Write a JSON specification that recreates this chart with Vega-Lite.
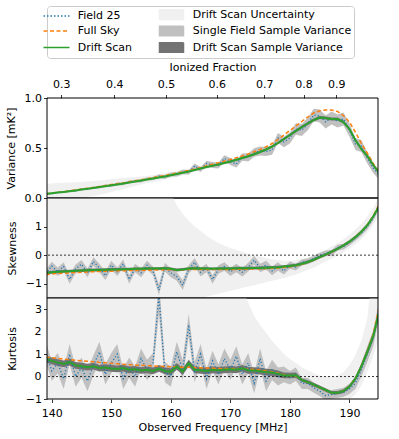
{
"$schema": "https://vega.github.io/schema/vega-lite/v6.json",
"autosize": {"type": "pad"},
"padding": {"left": 5, "top": 5, "right": 19, "bottom": 5},
"spacing": 0,
"bounds": "flush",
"config": {
  "font": "DejaVu Sans",
  "view": {"stroke": null},
  "axis": {"domain": false, "grid": false, "tickColor": "black", "tickSize": 3.5, "tickWidth": 0.8, "labelColor": "black", "labelFontSize": 11, "labelFont": "DejaVu Sans", "titleFont": "DejaVu Sans", "titleFontSize": 11, "titleFontWeight": "normal", "titleColor": "black", "labelPadding": 2, "titlePadding": 8, "labelFlush": false, "labelOverlap": false, "labelBound": false, "labelSeparation": -30},
  "axisY": {"labelOverlap": false},
  "axisLeft": {"labelOverlap": false},
  "legend": {"labelFont": "DejaVu Sans", "labelFontSize": 11, "labelColor": "black", "labelLimit": 400}
},
"datasets": {
"V": [
{"f":139,"d":0.040,"s":0.042,"p":0.040,"al":0.032,"ah":0.048,"bl":0.036,"bh":0.044,"ul":-0.06,"uh":0.14},
{"f":140,"d":0.047,"s":0.050,"p":0.044,"al":0.036,"ah":0.052,"bl":0.043,"bh":0.051,"ul":-0.05,"uh":0.145},
{"f":141,"d":0.054,"s":0.057,"p":0.056,"al":0.047,"ah":0.065,"bl":0.050,"bh":0.058,"ul":-0.04,"uh":0.15},
{"f":142,"d":0.061,"s":0.064,"p":0.058,"al":0.049,"ah":0.067,"bl":0.057,"bh":0.065,"ul":-0.03,"uh":0.152},
{"f":143,"d":0.068,"s":0.072,"p":0.070,"al":0.060,"ah":0.080,"bl":0.064,"bh":0.072,"ul":-0.02,"uh":0.155},
{"f":144,"d":0.076,"s":0.080,"p":0.072,"al":0.062,"ah":0.082,"bl":0.071,"bh":0.081,"ul":-0.01,"uh":0.158},
{"f":145,"d":0.084,"s":0.089,"p":0.086,"al":0.075,"ah":0.097,"bl":0.079,"bh":0.089,"ul":0.0,"uh":0.16},
{"f":146,"d":0.092,"s":0.097,"p":0.090,"al":0.079,"ah":0.101,"bl":0.087,"bh":0.097,"ul":0.01,"uh":0.165},
{"f":147,"d":0.100,"s":0.106,"p":0.104,"al":0.092,"ah":0.116,"bl":0.095,"bh":0.105,"ul":0.02,"uh":0.17},
{"f":148,"d":0.109,"s":0.115,"p":0.106,"al":0.094,"ah":0.118,"bl":0.104,"bh":0.114,"ul":0.03,"uh":0.175},
{"f":149,"d":0.118,"s":0.124,"p":0.122,"al":0.109,"ah":0.135,"bl":0.113,"bh":0.123,"ul":0.045,"uh":0.18},
{"f":150,"d":0.127,"s":0.134,"p":0.122,"al":0.109,"ah":0.135,"bl":0.122,"bh":0.132,"ul":0.06,"uh":0.19},
{"f":151,"d":0.136,"s":0.143,"p":0.140,"al":0.126,"ah":0.154,"bl":0.131,"bh":0.141,"ul":0.075,"uh":0.195},
{"f":152,"d":0.145,"s":0.152,"p":0.142,"al":0.128,"ah":0.156,"bl":0.140,"bh":0.150,"ul":0.09,"uh":0.20},
{"f":153,"d":0.155,"s":0.162,"p":0.160,"al":0.145,"ah":0.175,"bl":0.150,"bh":0.160,"ul":0.105,"uh":0.205},
{"f":154,"d":0.165,"s":0.172,"p":0.168,"al":0.153,"ah":0.183,"bl":0.160,"bh":0.170,"ul":0.12,"uh":0.21},
{"f":155,"d":0.175,"s":0.182,"p":0.172,"al":0.156,"ah":0.188,"bl":0.170,"bh":0.180,"ul":0.135,"uh":0.215},
{"f":156,"d":0.185,"s":0.193,"p":0.190,"al":0.174,"ah":0.206,"bl":0.180,"bh":0.190,"ul":0.15,"uh":0.22},
{"f":157,"d":0.195,"s":0.204,"p":0.194,"al":0.177,"ah":0.211,"bl":0.190,"bh":0.200,"ul":0.16,"uh":0.23},
{"f":158,"d":0.205,"s":0.215,"p":0.218,"al":0.200,"ah":0.236,"bl":0.200,"bh":0.210,"ul":0.17,"uh":0.24},
{"f":159,"d":0.216,"s":0.226,"p":0.210,"al":0.191,"ah":0.229,"bl":0.211,"bh":0.221,"ul":0.185,"uh":0.25},
{"f":160,"d":0.228,"s":0.238,"p":0.234,"al":0.214,"ah":0.254,"bl":0.222,"bh":0.234,"ul":0.20,"uh":0.26},
{"f":161,"d":0.240,"s":0.250,"p":0.236,"al":0.215,"ah":0.257,"bl":0.234,"bh":0.246,"ul":0.21,"uh":0.27},
{"f":162,"d":0.252,"s":0.262,"p":0.262,"al":0.240,"ah":0.284,"bl":0.246,"bh":0.258,"ul":0.225,"uh":0.28},
{"f":163,"d":0.265,"s":0.276,"p":0.256,"al":0.233,"ah":0.279,"bl":0.259,"bh":0.271,"ul":0.24,"uh":0.29},
{"f":164,"d":0.280,"s":0.290,"p":0.320,"al":0.295,"ah":0.345,"bl":0.273,"bh":0.287,"ul":0.26,"uh":0.30},
{"f":165,"d":0.295,"s":0.305,"p":0.285,"al":0.259,"ah":0.311,"bl":0.288,"bh":0.302,"ul":0.275,"uh":0.315},
{"f":166,"d":0.310,"s":0.322,"p":0.345,"al":0.317,"ah":0.373,"bl":0.303,"bh":0.317,"ul":0.29,"uh":0.33},
{"f":167,"d":0.322,"s":0.337,"p":0.330,"al":0.300,"ah":0.360,"bl":0.314,"bh":0.330,"ul":0.305,"uh":0.34},
{"f":168,"d":0.335,"s":0.352,"p":0.325,"al":0.294,"ah":0.356,"bl":0.327,"bh":0.343,"ul":0.32,"uh":0.35},
{"f":169,"d":0.350,"s":0.368,"p":0.395,"al":0.362,"ah":0.428,"bl":0.342,"bh":0.358,"ul":0.335,"uh":0.365},
{"f":170,"d":0.365,"s":0.385,"p":0.365,"al":0.330,"ah":0.400,"bl":0.356,"bh":0.374,"ul":0.35,"uh":0.38},
{"f":171,"d":0.382,"s":0.402,"p":0.340,"al":0.304,"ah":0.376,"bl":0.373,"bh":0.391,"ul":0.365,"uh":0.40},
{"f":172,"d":0.400,"s":0.420,"p":0.410,"al":0.372,"ah":0.448,"bl":0.391,"bh":0.409,"ul":0.385,"uh":0.415},
{"f":173,"d":0.418,"s":0.440,"p":0.405,"al":0.365,"ah":0.445,"bl":0.408,"bh":0.428,"ul":0.40,"uh":0.435},
{"f":174,"d":0.438,"s":0.462,"p":0.455,"al":0.413,"ah":0.497,"bl":0.428,"bh":0.448,"ul":0.42,"uh":0.455},
{"f":175,"d":0.460,"s":0.485,"p":0.470,"al":0.426,"ah":0.514,"bl":0.450,"bh":0.470,"ul":0.44,"uh":0.48},
{"f":176,"d":0.485,"s":0.512,"p":0.465,"al":0.420,"ah":0.510,"bl":0.474,"bh":0.496,"ul":0.465,"uh":0.505},
{"f":177,"d":0.515,"s":0.545,"p":0.480,"al":0.433,"ah":0.527,"bl":0.504,"bh":0.526,"ul":0.495,"uh":0.535},
{"f":178,"d":0.550,"s":0.585,"p":0.600,"al":0.550,"ah":0.650,"bl":0.538,"bh":0.562,"ul":0.53,"uh":0.57},
{"f":179,"d":0.590,"s":0.630,"p":0.560,"al":0.508,"ah":0.612,"bl":0.578,"bh":0.602,"ul":0.57,"uh":0.61},
{"f":180,"d":0.630,"s":0.675,"p":0.600,"al":0.545,"ah":0.655,"bl":0.617,"bh":0.643,"ul":0.61,"uh":0.65},
{"f":181,"d":0.670,"s":0.720,"p":0.690,"al":0.633,"ah":0.747,"bl":0.656,"bh":0.684,"ul":0.65,"uh":0.69},
{"f":182,"d":0.710,"s":0.765,"p":0.680,"al":0.620,"ah":0.740,"bl":0.695,"bh":0.725,"ul":0.69,"uh":0.73},
{"f":183,"d":0.745,"s":0.810,"p":0.740,"al":0.678,"ah":0.802,"bl":0.730,"bh":0.760,"ul":0.725,"uh":0.765},
{"f":184,"d":0.780,"s":0.850,"p":0.830,"al":0.767,"ah":0.893,"bl":0.765,"bh":0.795,"ul":0.76,"uh":0.80},
{"f":185,"d":0.805,"s":0.872,"p":0.820,"al":0.755,"ah":0.885,"bl":0.790,"bh":0.820,"ul":0.785,"uh":0.825},
{"f":186,"d":0.800,"s":0.880,"p":0.760,"al":0.695,"ah":0.825,"bl":0.785,"bh":0.815,"ul":0.78,"uh":0.82},
{"f":187,"d":0.790,"s":0.880,"p":0.800,"al":0.735,"ah":0.865,"bl":0.775,"bh":0.805,"ul":0.77,"uh":0.81},
{"f":188,"d":0.790,"s":0.865,"p":0.770,"al":0.705,"ah":0.835,"bl":0.775,"bh":0.805,"ul":0.77,"uh":0.81},
{"f":189,"d":0.760,"s":0.825,"p":0.790,"al":0.725,"ah":0.855,"bl":0.745,"bh":0.775,"ul":0.74,"uh":0.78},
{"f":190,"d":0.690,"s":0.760,"p":0.680,"al":0.615,"ah":0.745,"bl":0.675,"bh":0.705,"ul":0.67,"uh":0.71},
{"f":191,"d":0.580,"s":0.660,"p":0.540,"al":0.480,"ah":0.600,"bl":0.565,"bh":0.595,"ul":0.56,"uh":0.60},
{"f":192,"d":0.490,"s":0.545,"p":0.520,"al":0.460,"ah":0.580,"bl":0.476,"bh":0.504,"ul":0.47,"uh":0.51},
{"f":193,"d":0.420,"s":0.450,"p":0.400,"al":0.345,"ah":0.455,"bl":0.406,"bh":0.434,"ul":0.40,"uh":0.44},
{"f":194,"d":0.330,"s":0.345,"p":0.300,"al":0.250,"ah":0.350,"bl":0.317,"bh":0.343,"ul":0.31,"uh":0.35},
{"f":195,"d":0.250,"s":0.255,"p":0.230,"al":0.185,"ah":0.275,"bl":0.238,"bh":0.262,"ul":0.23,"uh":0.27}
],
"S": [
{"f":139,"d":-0.62,"s":-0.68,"p":-0.65,"al":-0.80,"ah":-0.50,"bl":-0.67,"bh":-0.57,"ul":-3,"uh":5},
{"f":140,"d":-0.60,"s":-0.66,"p":-0.38,"al":-0.53,"ah":-0.23,"bl":-0.65,"bh":-0.55,"ul":-3,"uh":5},
{"f":141,"d":-0.58,"s":-0.64,"p":-0.58,"al":-0.73,"ah":-0.43,"bl":-0.63,"bh":-0.53,"ul":-3,"uh":5},
{"f":142,"d":-0.57,"s":-0.63,"p":-0.40,"al":-0.55,"ah":-0.25,"bl":-0.62,"bh":-0.52,"ul":-3,"uh":5},
{"f":143,"d":-0.56,"s":-0.62,"p":-0.85,"al":-1.00,"ah":-0.70,"bl":-0.61,"bh":-0.51,"ul":-3,"uh":5},
{"f":144,"d":-0.55,"s":-0.61,"p":-0.48,"al":-0.63,"ah":-0.33,"bl":-0.60,"bh":-0.50,"ul":-3,"uh":5},
{"f":145,"d":-0.54,"s":-0.60,"p":-0.32,"al":-0.47,"ah":-0.17,"bl":-0.59,"bh":-0.49,"ul":-3,"uh":5},
{"f":146,"d":-0.53,"s":-0.59,"p":-0.62,"al":-0.77,"ah":-0.47,"bl":-0.58,"bh":-0.48,"ul":-3,"uh":5},
{"f":147,"d":-0.52,"s":-0.58,"p":-0.22,"al":-0.37,"ah":-0.07,"bl":-0.57,"bh":-0.47,"ul":-3,"uh":5},
{"f":148,"d":-0.52,"s":-0.57,"p":-0.45,"al":-0.60,"ah":-0.30,"bl":-0.57,"bh":-0.47,"ul":-3,"uh":5},
{"f":149,"d":-0.51,"s":-0.56,"p":-0.72,"al":-0.87,"ah":-0.57,"bl":-0.56,"bh":-0.46,"ul":-3,"uh":5},
{"f":150,"d":-0.50,"s":-0.56,"p":-0.35,"al":-0.50,"ah":-0.20,"bl":-0.55,"bh":-0.45,"ul":-3,"uh":5},
{"f":151,"d":-0.50,"s":-0.55,"p":-0.58,"al":-0.73,"ah":-0.43,"bl":-0.55,"bh":-0.45,"ul":-3,"uh":5},
{"f":152,"d":-0.49,"s":-0.55,"p":-0.30,"al":-0.45,"ah":-0.15,"bl":-0.54,"bh":-0.44,"ul":-3,"uh":5},
{"f":153,"d":-0.49,"s":-0.54,"p":-0.85,"al":-1.00,"ah":-0.70,"bl":-0.54,"bh":-0.44,"ul":-3,"uh":5},
{"f":154,"d":-0.48,"s":-0.54,"p":-0.45,"al":-0.60,"ah":-0.30,"bl":-0.53,"bh":-0.43,"ul":-3,"uh":5},
{"f":155,"d":-0.48,"s":-0.53,"p":-0.62,"al":-0.77,"ah":-0.47,"bl":-0.53,"bh":-0.43,"ul":-3,"uh":5},
{"f":156,"d":-0.47,"s":-0.53,"p":-0.35,"al":-0.50,"ah":-0.20,"bl":-0.52,"bh":-0.42,"ul":-3,"uh":5},
{"f":157,"d":-0.47,"s":-0.52,"p":-0.55,"al":-0.70,"ah":-0.40,"bl":-0.52,"bh":-0.42,"ul":-3,"uh":5},
{"f":158,"d":-0.47,"s":-0.52,"p":-1.22,"al":-1.40,"ah":-1.02,"bl":-0.52,"bh":-0.42,"ul":-3,"uh":5},
{"f":159,"d":-0.46,"s":-0.51,"p":-0.42,"al":-0.57,"ah":-0.27,"bl":-0.51,"bh":-0.41,"ul":-3,"uh":5},
{"f":160,"d":-0.48,"s":-0.51,"p":-0.62,"al":-0.77,"ah":-0.47,"bl":-0.53,"bh":-0.43,"ul":-3,"uh":2.2},
{"f":161,"d":-0.52,"s":-0.51,"p":-0.75,"al":-0.90,"ah":-0.60,"bl":-0.57,"bh":-0.47,"ul":-3,"uh":1.75},
{"f":162,"d":-0.50,"s":-0.51,"p":-1.05,"al":-1.22,"ah":-0.88,"bl":-0.55,"bh":-0.45,"ul":-3,"uh":1.45},
{"f":163,"d":-0.47,"s":-0.50,"p":-0.50,"al":-0.65,"ah":-0.35,"bl":-0.52,"bh":-0.42,"ul":-3,"uh":1.2},
{"f":164,"d":-0.46,"s":-0.50,"p":-0.25,"al":-0.40,"ah":-0.10,"bl":-0.51,"bh":-0.41,"ul":-3,"uh":1.0},
{"f":165,"d":-0.47,"s":-0.50,"p":-0.60,"al":-0.75,"ah":-0.45,"bl":-0.52,"bh":-0.42,"ul":-3,"uh":0.85},
{"f":166,"d":-0.47,"s":-0.50,"p":-0.45,"al":-0.60,"ah":-0.30,"bl":-0.52,"bh":-0.42,"ul":-1.45,"uh":0.68},
{"f":167,"d":-0.48,"s":-0.50,"p":-0.85,"al":-1.00,"ah":-0.70,"bl":-0.53,"bh":-0.43,"ul":-1.40,"uh":0.55},
{"f":168,"d":-0.47,"s":-0.50,"p":-0.50,"al":-0.65,"ah":-0.35,"bl":-0.52,"bh":-0.42,"ul":-1.35,"uh":0.43},
{"f":169,"d":-0.47,"s":-0.50,"p":-0.40,"al":-0.55,"ah":-0.25,"bl":-0.52,"bh":-0.42,"ul":-1.30,"uh":0.33},
{"f":170,"d":-0.47,"s":-0.50,"p":-0.58,"al":-0.73,"ah":-0.43,"bl":-0.52,"bh":-0.42,"ul":-1.25,"uh":0.25},
{"f":171,"d":-0.46,"s":-0.50,"p":-0.45,"al":-0.60,"ah":-0.30,"bl":-0.51,"bh":-0.41,"ul":-1.20,"uh":0.18},
{"f":172,"d":-0.46,"s":-0.49,"p":-0.60,"al":-0.75,"ah":-0.45,"bl":-0.51,"bh":-0.41,"ul":-1.15,"uh":0.12},
{"f":173,"d":-0.46,"s":-0.49,"p":-0.42,"al":-0.57,"ah":-0.27,"bl":-0.51,"bh":-0.41,"ul":-1.10,"uh":0.05},
{"f":174,"d":-0.45,"s":-0.48,"p":-0.18,"al":-0.33,"ah":-0.03,"bl":-0.50,"bh":-0.40,"ul":-1.05,"uh":0.0},
{"f":175,"d":-0.45,"s":-0.48,"p":-0.45,"al":-0.60,"ah":-0.30,"bl":-0.50,"bh":-0.40,"ul":-1.00,"uh":-0.05},
{"f":176,"d":-0.44,"s":-0.47,"p":-0.35,"al":-0.50,"ah":-0.20,"bl":-0.49,"bh":-0.39,"ul":-0.95,"uh":-0.10},
{"f":177,"d":-0.43,"s":-0.46,"p":-0.55,"al":-0.70,"ah":-0.40,"bl":-0.48,"bh":-0.38,"ul":-0.90,"uh":-0.15},
{"f":178,"d":-0.42,"s":-0.45,"p":-0.40,"al":-0.55,"ah":-0.25,"bl":-0.47,"bh":-0.37,"ul":-0.85,"uh":-0.18},
{"f":179,"d":-0.40,"s":-0.43,"p":-0.55,"al":-0.68,"ah":-0.42,"bl":-0.45,"bh":-0.35,"ul":-0.80,"uh":-0.20},
{"f":180,"d":-0.38,"s":-0.41,"p":-0.35,"al":-0.48,"ah":-0.22,"bl":-0.43,"bh":-0.33,"ul":-0.74,"uh":-0.20},
{"f":181,"d":-0.35,"s":-0.37,"p":-0.42,"al":-0.54,"ah":-0.30,"bl":-0.40,"bh":-0.30,"ul":-0.68,"uh":-0.18},
{"f":182,"d":-0.30,"s":-0.32,"p":-0.25,"al":-0.36,"ah":-0.14,"bl":-0.35,"bh":-0.25,"ul":-0.60,"uh":-0.14},
{"f":183,"d":-0.24,"s":-0.25,"p":-0.22,"al":-0.32,"ah":-0.12,"bl":-0.29,"bh":-0.19,"ul":-0.52,"uh":-0.08},
{"f":184,"d":-0.16,"s":-0.17,"p":-0.12,"al":-0.22,"ah":-0.02,"bl":-0.21,"bh":-0.11,"ul":-0.44,"uh":0.0},
{"f":185,"d":-0.07,"s":-0.08,"p":-0.02,"al":-0.12,"ah":0.08,"bl":-0.12,"bh":-0.02,"ul":-0.33,"uh":0.09},
{"f":186,"d":0.02,"s":0.01,"p":0.06,"al":-0.04,"ah":0.16,"bl":-0.03,"bh":0.07,"ul":-0.22,"uh":0.18},
{"f":187,"d":0.12,"s":0.11,"p":0.08,"al":-0.02,"ah":0.18,"bl":0.07,"bh":0.17,"ul":-0.12,"uh":0.30},
{"f":188,"d":0.22,"s":0.22,"p":0.26,"al":0.16,"ah":0.36,"bl":0.17,"bh":0.27,"ul":-0.02,"uh":0.42},
{"f":189,"d":0.34,"s":0.34,"p":0.30,"al":0.20,"ah":0.40,"bl":0.29,"bh":0.39,"ul":0.10,"uh":0.56},
{"f":190,"d":0.47,"s":0.47,"p":0.44,"al":0.34,"ah":0.54,"bl":0.42,"bh":0.52,"ul":0.22,"uh":0.72},
{"f":191,"d":0.63,"s":0.64,"p":0.60,"al":0.50,"ah":0.70,"bl":0.58,"bh":0.68,"ul":0.38,"uh":0.90},
{"f":192,"d":0.82,"s":0.83,"p":0.78,"al":0.68,"ah":0.88,"bl":0.77,"bh":0.87,"ul":0.56,"uh":1.10},
{"f":193,"d":1.05,"s":1.07,"p":1.00,"al":0.90,"ah":1.10,"bl":1.00,"bh":1.10,"ul":0.78,"uh":1.35},
{"f":194,"d":1.35,"s":1.38,"p":1.30,"al":1.20,"ah":1.40,"bl":1.30,"bh":1.40,"ul":1.05,"uh":1.65},
{"f":195,"d":1.72,"s":1.78,"p":1.70,"al":1.60,"ah":1.80,"bl":1.67,"bh":1.77,"ul":1.40,"uh":2.05}
],
"K": [
{"f":139,"d":0.78,"s":0.87,"p":1.10,"al":0.65,"ah":1.55,"bl":0.63,"bh":0.93,"ul":-3,"uh":5},
{"f":140,"d":0.70,"s":0.84,"p":0.25,"al":-0.20,"ah":0.70,"bl":0.55,"bh":0.85,"ul":-3,"uh":5},
{"f":141,"d":0.62,"s":0.81,"p":0.60,"al":0.15,"ah":1.05,"bl":0.47,"bh":0.77,"ul":-3,"uh":5},
{"f":142,"d":0.56,"s":0.78,"p":-0.10,"al":-0.55,"ah":0.35,"bl":0.41,"bh":0.71,"ul":-3,"uh":5},
{"f":143,"d":0.64,"s":0.76,"p":1.00,"al":0.55,"ah":1.45,"bl":0.49,"bh":0.79,"ul":-3,"uh":5},
{"f":144,"d":0.50,"s":0.73,"p":0.00,"al":-0.45,"ah":0.45,"bl":0.35,"bh":0.65,"ul":-3,"uh":5},
{"f":145,"d":0.46,"s":0.70,"p":0.40,"al":-0.05,"ah":0.85,"bl":0.31,"bh":0.61,"ul":-3,"uh":5},
{"f":146,"d":0.42,"s":0.68,"p":-0.20,"al":-0.65,"ah":0.25,"bl":0.27,"bh":0.57,"ul":-3,"uh":5},
{"f":147,"d":0.46,"s":0.66,"p":0.50,"al":0.05,"ah":0.95,"bl":0.31,"bh":0.61,"ul":-3,"uh":5},
{"f":148,"d":0.38,"s":0.63,"p":1.10,"al":0.65,"ah":1.55,"bl":0.23,"bh":0.53,"ul":-3,"uh":5},
{"f":149,"d":0.40,"s":0.61,"p":0.10,"al":-0.35,"ah":0.55,"bl":0.25,"bh":0.55,"ul":-3,"uh":5},
{"f":150,"d":0.36,"s":0.59,"p":0.60,"al":0.15,"ah":1.05,"bl":0.21,"bh":0.51,"ul":-3,"uh":5},
{"f":151,"d":0.34,"s":0.57,"p":1.00,"al":0.55,"ah":1.45,"bl":0.19,"bh":0.49,"ul":-3,"uh":5},
{"f":152,"d":0.38,"s":0.55,"p":-0.10,"al":-0.55,"ah":0.35,"bl":0.23,"bh":0.53,"ul":-3,"uh":5},
{"f":153,"d":0.30,"s":0.53,"p":0.40,"al":-0.05,"ah":0.85,"bl":0.15,"bh":0.45,"ul":-3,"uh":5},
{"f":154,"d":0.32,"s":0.52,"p":0.00,"al":-0.45,"ah":0.45,"bl":0.17,"bh":0.47,"ul":-3,"uh":5},
{"f":155,"d":0.27,"s":0.50,"p":0.80,"al":0.35,"ah":1.25,"bl":0.12,"bh":0.42,"ul":-3,"uh":5},
{"f":156,"d":0.30,"s":0.49,"p":0.30,"al":-0.15,"ah":0.75,"bl":0.15,"bh":0.45,"ul":-3,"uh":5},
{"f":157,"d":0.25,"s":0.47,"p":0.60,"al":0.15,"ah":1.05,"bl":0.10,"bh":0.40,"ul":-3,"uh":5},
{"f":158,"d":0.36,"s":0.46,"p":3.60,"al":2.80,"ah":4.40,"bl":0.21,"bh":0.51,"ul":-3,"uh":5},
{"f":159,"d":0.25,"s":0.45,"p":0.20,"al":-0.25,"ah":0.65,"bl":0.10,"bh":0.40,"ul":-3,"uh":5},
{"f":160,"d":0.22,"s":0.44,"p":0.00,"al":-0.45,"ah":0.45,"bl":0.07,"bh":0.37,"ul":-3,"uh":5},
{"f":161,"d":0.45,"s":0.43,"p":1.10,"al":0.65,"ah":1.55,"bl":0.30,"bh":0.60,"ul":-3,"uh":5},
{"f":162,"d":0.22,"s":0.42,"p":0.30,"al":-0.15,"ah":0.75,"bl":0.07,"bh":0.37,"ul":-3,"uh":5},
{"f":163,"d":0.60,"s":0.41,"p":2.30,"al":1.80,"ah":2.80,"bl":0.45,"bh":0.75,"ul":-3,"uh":5},
{"f":164,"d":0.30,"s":0.40,"p":0.20,"al":-0.25,"ah":0.65,"bl":0.15,"bh":0.45,"ul":-3,"uh":5},
{"f":165,"d":0.28,"s":0.39,"p":1.00,"al":0.55,"ah":1.45,"bl":0.13,"bh":0.43,"ul":-3,"uh":5},
{"f":166,"d":0.25,"s":0.38,"p":-0.10,"al":-0.55,"ah":0.35,"bl":0.10,"bh":0.40,"ul":-3,"uh":5},
{"f":167,"d":0.30,"s":0.37,"p":0.70,"al":0.25,"ah":1.15,"bl":0.15,"bh":0.45,"ul":-3,"uh":5},
{"f":168,"d":0.28,"s":0.36,"p":0.10,"al":-0.35,"ah":0.55,"bl":0.13,"bh":0.43,"ul":-3,"uh":5},
{"f":169,"d":0.30,"s":0.36,"p":0.80,"al":0.35,"ah":1.25,"bl":0.15,"bh":0.45,"ul":-3,"uh":5},
{"f":170,"d":0.32,"s":0.35,"p":0.30,"al":-0.15,"ah":0.75,"bl":0.17,"bh":0.47,"ul":-3,"uh":5},
{"f":171,"d":0.30,"s":0.35,"p":0.90,"al":0.45,"ah":1.35,"bl":0.15,"bh":0.45,"ul":-3,"uh":5},
{"f":172,"d":0.37,"s":0.34,"p":0.10,"al":-0.35,"ah":0.55,"bl":0.22,"bh":0.52,"ul":-3,"uh":4.0},
{"f":173,"d":0.28,"s":0.33,"p":0.60,"al":0.15,"ah":1.05,"bl":0.13,"bh":0.43,"ul":-3,"uh":3.3},
{"f":174,"d":0.27,"s":0.31,"p":-0.30,"al":-0.75,"ah":0.15,"bl":0.12,"bh":0.42,"ul":-3,"uh":2.7},
{"f":175,"d":0.24,"s":0.29,"p":0.80,"al":0.35,"ah":1.25,"bl":0.09,"bh":0.39,"ul":-3,"uh":2.3},
{"f":176,"d":0.20,"s":0.25,"p":-0.20,"al":-0.65,"ah":0.25,"bl":0.05,"bh":0.35,"ul":-3,"uh":1.95},
{"f":177,"d":0.18,"s":0.21,"p":0.30,"al":-0.15,"ah":0.75,"bl":0.03,"bh":0.33,"ul":-3,"uh":1.6},
{"f":178,"d":0.12,"s":0.15,"p":0.00,"al":-0.40,"ah":0.40,"bl":-0.03,"bh":0.27,"ul":-3,"uh":1.3},
{"f":179,"d":0.05,"s":0.08,"p":0.10,"al":-0.25,"ah":0.45,"bl":-0.08,"bh":0.18,"ul":-3,"uh":1.0},
{"f":180,"d":0.05,"s":0.04,"p":-0.05,"al":-0.35,"ah":0.25,"bl":-0.07,"bh":0.17,"ul":-3,"uh":0.78},
{"f":181,"d":0.06,"s":0.02,"p":0.10,"al":-0.20,"ah":0.40,"bl":-0.06,"bh":0.18,"ul":-3,"uh":0.6},
{"f":182,"d":-0.15,"s":-0.15,"p":-0.30,"al":-0.55,"ah":-0.05,"bl":-0.23,"bh":-0.07,"ul":-1.6,"uh":0.42},
{"f":183,"d":-0.25,"s":-0.26,"p":-0.30,"al":-0.55,"ah":-0.05,"bl":-0.33,"bh":-0.17,"ul":-1.6,"uh":0.28},
{"f":184,"d":-0.36,"s":-0.37,"p":-0.50,"al":-0.72,"ah":-0.28,"bl":-0.44,"bh":-0.28,"ul":-1.6,"uh":0.15},
{"f":185,"d":-0.48,"s":-0.49,"p":-0.65,"al":-0.87,"ah":-0.43,"bl":-0.56,"bh":-0.40,"ul":-1.6,"uh":0.05},
{"f":186,"d":-0.60,"s":-0.61,"p":-0.85,"al":-1.05,"ah":-0.65,"bl":-0.68,"bh":-0.52,"ul":-1.5,"uh":0.0},
{"f":187,"d":-0.72,"s":-0.73,"p":-0.80,"al":-1.00,"ah":-0.60,"bl":-0.80,"bh":-0.64,"ul":-1.4,"uh":0.0},
{"f":188,"d":-0.72,"s":-0.72,"p":-0.75,"al":-0.95,"ah":-0.55,"bl":-0.80,"bh":-0.64,"ul":-1.3,"uh":0.05},
{"f":189,"d":-0.65,"s":-0.64,"p":-0.70,"al":-0.90,"ah":-0.50,"bl":-0.73,"bh":-0.57,"ul":-1.2,"uh":0.2},
{"f":190,"d":-0.45,"s":-0.43,"p":-0.55,"al":-0.78,"ah":-0.32,"bl":-0.53,"bh":-0.37,"ul":-1.0,"uh":0.5},
{"f":191,"d":-0.10,"s":-0.08,"p":-0.30,"al":-0.55,"ah":-0.05,"bl":-0.20,"bh":0.00,"ul":-0.8,"uh":0.95},
{"f":192,"d":0.45,"s":0.48,"p":0.30,"al":0.00,"ah":0.60,"bl":0.33,"bh":0.57,"ul":-0.4,"uh":1.6},
{"f":193,"d":1.10,"s":1.15,"p":1.00,"al":0.65,"ah":1.35,"bl":0.95,"bh":1.25,"ul":0.2,"uh":2.6},
{"f":194,"d":1.80,"s":1.90,"p":1.70,"al":1.35,"ah":2.05,"bl":1.62,"bh":1.98,"ul":0.9,"uh":5},
{"f":195,"d":2.90,"s":3.10,"p":3.00,"al":2.60,"ah":3.40,"bl":2.70,"bh":3.10,"ul":1.8,"uh":5}
]
},
"vconcat": [
{
 "width": 331, "height": 100,
 "data": {"name": "V"},
 "layer": [
  {"mark": {"type": "area", "clip": true}, "encoding": {
    "x": {"field": "f", "type": "quantitative", "scale": {"domain": [139.2, 194.8], "nice": false, "zero": false}, "axis": {"orient": "top", "values": [141.6, 150.5, 159.2, 167.7, 175.7, 182.3, 187.8], "labelExpr": "datum.value < 145 ? '0.3' : datum.value < 155 ? '0.4' : datum.value < 163 ? '0.5' : datum.value < 171 ? '0.6' : datum.value < 179 ? '0.7' : datum.value < 185 ? '0.8' : '0.9'", "title": "Ionized Fraction", "labelPadding": 5, "titlePadding": 6, "labelOverlap": false}},
    "y": {"field": "ul", "type": "quantitative", "scale": {"domain": [0, 1], "nice": false, "zero": false}, "axis": {"values": [0, 0.5, 1], "format": ".1f", "title": "Variance [mK²]", "labelOverlap": false}},
    "y2": {"field": "uh"},
    "color": {"datum": "Drift Scan Uncertainty", "scale": {"domain": ["Field 25", "Full Sky", "Drift Scan", "Drift Scan Uncertainty", "Single Field Sample Variance", "Drift Scan Sample Variance"], "range": ["#1f77b4", "#ff7f0e", "#2ca02c", "#f0f0f0", "#c0c0c0", "#737373"]},
      "legend": {"title": null, "orient": "none", "legendX": 0, "legendY": -92, "columns": 2, "symbolSize": 100, "symbolOffset": 1, "labelOffset": 15.2, "columnPadding": 24, "rowPadding": 0.5, "padding": 2.5, "strokeColor": "#cccccc", "cornerRadius": 3, "fillColor": "white", "labelFontSize": 11, "labelLimit": 400,
        "encode": {
         "symbols": {"update": {
          "shape": {"signal": "indexof(['Field 25','Full Sky','Drift Scan'], datum.value) >= 0 ? 'M-2.6,0H2.6' : 'M-2.4,-0.96H2.4V0.96H-2.4Z'"},
          "fill": {"signal": "indexof(['Field 25','Full Sky','Drift Scan'], datum.value) >= 0 ? 'transparent' : scale('color', datum.value)"},
          "stroke": {"signal": "indexof(['Field 25','Full Sky','Drift Scan'], datum.value) >= 0 ? scale('color', datum.value) : 'transparent'"},
          "strokeDash": {"signal": "datum.value === 'Field 25' ? [1.5,2] : datum.value === 'Full Sky' ? [4,2.5] : [1,0]"},
          "strokeWidth": {"value": 1.5},
          "opacity": {"value": 1},
          "fillOpacity": {"value": 1},
          "strokeOpacity": {"value": 1}
        }}}}}
  }},
  {"mark": {"type": "area", "clip": true}, "encoding": {
    "x": {"field": "f", "type": "quantitative"},
    "y": {"field": "al", "type": "quantitative"},
    "y2": {"field": "ah"},
    "color": {"datum": "Single Field Sample Variance"}
  }},
  {"mark": {"type": "area", "clip": true}, "encoding": {
    "x": {"field": "f", "type": "quantitative"},
    "y": {"field": "bl", "type": "quantitative"},
    "y2": {"field": "bh"},
    "color": {"datum": "Drift Scan Sample Variance"}
  }},
  {"mark": {"type": "line", "clip": true, "strokeDash": [1.2, 2], "strokeWidth": 1.3}, "encoding": {
    "x": {"field": "f", "type": "quantitative"},
    "y": {"field": "p", "type": "quantitative"},
    "color": {"datum": "Field 25"}
  }},
  {"mark": {"type": "line", "clip": true, "strokeDash": [4, 2.4], "strokeWidth": 1.5}, "encoding": {
    "x": {"field": "f", "type": "quantitative"},
    "y": {"field": "s", "type": "quantitative"},
    "color": {"datum": "Full Sky"}
  }},
  {"mark": {"type": "line", "clip": true, "strokeWidth": 2}, "encoding": {
    "x": {"field": "f", "type": "quantitative"},
    "y": {"field": "d", "type": "quantitative"},
    "color": {"datum": "Drift Scan"}
  }},
  {"data": {"values": [{}]}, "mark": {"type": "rect", "filled": false, "color": "black", "strokeWidth": 1}, "encoding": {
    "x": {"datum": 139.2, "type": "quantitative"}, "x2": {"datum": 194.8},
    "y": {"datum": 0, "type": "quantitative"}, "y2": {"datum": 1}
  }}
 ]
},
{
 "width": 331, "height": 100,
 "data": {"name": "S"},
 "layer": [
  {"mark": {"type": "area", "clip": true}, "encoding": {
    "x": {"field": "f", "type": "quantitative", "scale": {"domain": [139.2, 194.8], "nice": false, "zero": false}, "axis": null},
    "y": {"field": "ul", "type": "quantitative", "scale": {"domain": [-1.5, 2], "nice": false, "zero": false}, "axis": {"values": [-1, 0, 1], "format": "d", "title": "Skewness", "labelOverlap": false}},
    "y2": {"field": "uh"},
    "color": {"datum": "Drift Scan Uncertainty"}
  }},
  {"mark": {"type": "area", "clip": true}, "encoding": {
    "x": {"field": "f", "type": "quantitative"},
    "y": {"field": "al", "type": "quantitative"},
    "y2": {"field": "ah"},
    "color": {"datum": "Single Field Sample Variance"}
  }},
  {"mark": {"type": "area", "clip": true}, "encoding": {
    "x": {"field": "f", "type": "quantitative"},
    "y": {"field": "bl", "type": "quantitative"},
    "y2": {"field": "bh"},
    "color": {"datum": "Drift Scan Sample Variance"}
  }},
  {"data": {"values": [{"z": 0}]}, "mark": {"type": "rule", "color": "black", "strokeDash": [2, 2], "strokeWidth": 0.8}, "encoding": {
    "y": {"field": "z", "type": "quantitative"}
  }},
  {"mark": {"type": "line", "clip": true, "strokeDash": [1.2, 2], "strokeWidth": 1.3}, "encoding": {
    "x": {"field": "f", "type": "quantitative"},
    "y": {"field": "p", "type": "quantitative"},
    "color": {"datum": "Field 25"}
  }},
  {"mark": {"type": "line", "clip": true, "strokeDash": [4, 2.4], "strokeWidth": 1.5}, "encoding": {
    "x": {"field": "f", "type": "quantitative"},
    "y": {"field": "s", "type": "quantitative"},
    "color": {"datum": "Full Sky"}
  }},
  {"mark": {"type": "line", "clip": true, "strokeWidth": 2}, "encoding": {
    "x": {"field": "f", "type": "quantitative"},
    "y": {"field": "d", "type": "quantitative"},
    "color": {"datum": "Drift Scan"}
  }},
  {"data": {"values": [{}]}, "mark": {"type": "rect", "filled": false, "color": "black", "strokeWidth": 1}, "encoding": {
    "x": {"datum": 139.2, "type": "quantitative"}, "x2": {"datum": 194.8},
    "y": {"datum": -1.5, "type": "quantitative"}, "y2": {"datum": 2}
  }}
 ]
},
{
 "width": 331, "height": 101,
 "data": {"name": "K"},
 "layer": [
  {"mark": {"type": "area", "clip": true}, "encoding": {
    "x": {"field": "f", "type": "quantitative", "scale": {"domain": [139.2, 194.8], "nice": false, "zero": false}, "axis": {"values": [140, 150, 160, 170, 180, 190], "title": "Observed Frequency [MHz]", "labelPadding": 5, "titlePadding": 2.5, "labelOverlap": false}},
    "y": {"field": "ul", "type": "quantitative", "scale": {"domain": [-1, 3.5], "nice": false, "zero": false}, "axis": {"values": [-1, 0, 1, 2, 3], "format": "d", "title": "Kurtosis", "labelOverlap": false, "labelBound": false, "labelSeparation": -30}},
    "y2": {"field": "uh"},
    "color": {"datum": "Drift Scan Uncertainty"}
  }},
  {"mark": {"type": "area", "clip": true}, "encoding": {
    "x": {"field": "f", "type": "quantitative"},
    "y": {"field": "al", "type": "quantitative"},
    "y2": {"field": "ah"},
    "color": {"datum": "Single Field Sample Variance"}
  }},
  {"mark": {"type": "area", "clip": true}, "encoding": {
    "x": {"field": "f", "type": "quantitative"},
    "y": {"field": "bl", "type": "quantitative"},
    "y2": {"field": "bh"},
    "color": {"datum": "Drift Scan Sample Variance"}
  }},
  {"data": {"values": [{"z": 0}]}, "mark": {"type": "rule", "color": "black", "strokeDash": [2, 2], "strokeWidth": 0.8}, "encoding": {
    "y": {"field": "z", "type": "quantitative"}
  }},
  {"mark": {"type": "line", "clip": true, "strokeDash": [1.2, 2], "strokeWidth": 1.3}, "encoding": {
    "x": {"field": "f", "type": "quantitative"},
    "y": {"field": "p", "type": "quantitative"},
    "color": {"datum": "Field 25"}
  }},
  {"mark": {"type": "line", "clip": true, "strokeDash": [4, 2.4], "strokeWidth": 1.5}, "encoding": {
    "x": {"field": "f", "type": "quantitative"},
    "y": {"field": "s", "type": "quantitative"},
    "color": {"datum": "Full Sky"}
  }},
  {"mark": {"type": "line", "clip": true, "strokeWidth": 2}, "encoding": {
    "x": {"field": "f", "type": "quantitative"},
    "y": {"field": "d", "type": "quantitative"},
    "color": {"datum": "Drift Scan"}
  }},
  {"data": {"values": [{}]}, "mark": {"type": "rect", "filled": false, "color": "black", "strokeWidth": 1}, "encoding": {
    "x": {"datum": 139.2, "type": "quantitative"}, "x2": {"datum": 194.8},
    "y": {"datum": -1, "type": "quantitative"}, "y2": {"datum": 3.5}
  }},
  {"data": {"values": [{"v": 0, "t": "0"}, {"v": 2, "t": "2"}]}, "mark": {"type": "text", "align": "right", "baseline": "middle", "dx": -5.5, "fontSize": 11, "font": "DejaVu Sans", "color": "black"}, "encoding": {
    "x": {"datum": 139.2, "type": "quantitative"},
    "y": {"field": "v", "type": "quantitative"},
    "text": {"field": "t"}
  }}
 ]
}
]
}
